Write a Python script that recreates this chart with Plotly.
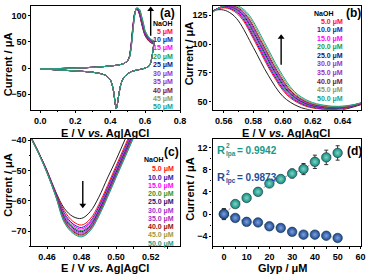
import plotly.graph_objects as go

W, H = 371, 274
FONT = "Liberation Sans"

# ---------------- shared labels / colours ----------------
conc_labels_a = ["5 μM", "10 μM", "15 μM", "20 μM", "25 μM", "30 μM", "35 μM", "40 μM", "45 μM", "50 μM"]
conc_labels_bc = ["5.0 μM", "10.0 μM", "15.0 μM", "20.0 μM", "25.0 μM", "30.0 μM", "35.0 μM", "40.0 μM", "45.0 μM", "50.0 μM"]
curve_colors = ["#ff1010", "#1c1cb0", "#ff00ff", "#1f9a3f", "#14147a", "#9b30d0", "#a030c0", "#8b1414", "#9a9a4a", "#16a08f"]
blank_color = "#222222"

# ---------------- panel (a): full CV ----------------
a_fwd_x = [0.0, 0.05, 0.1, 0.15, 0.2, 0.25, 0.3, 0.35, 0.4, 0.45, 0.48, 0.5]
a_fwd_y = [-1.5, -1.5, -1, -0.5, 0, 0.5, 1.5, 2.5, 4, 6, 9, 14]
a_peak_x = [0.51, 0.52, 0.53, 0.54, 0.55, 0.56, 0.57, 0.58, 0.59, 0.6, 0.62, 0.64, 0.65]
a_peak_y_blank = [22, 45, 80, 105, 113, 110, 100, 85, 72, 62, 52, 47, 46]
a_peak_y = [
    [21.7, 44.2, 79, 104.5, 113.2, 110.5, 101.2, 86.5, 73.5, 63, 52.8, 47.7, 46.7],
    [21.4, 43.4, 78, 104, 113.4, 111, 102.4, 88, 75, 64, 53.6, 48.4, 47.4],
    [21.1, 42.6, 77, 103.5, 113.6, 111.5, 103.6, 89.5, 76.5, 65, 54.4, 49.1, 48.1],
    [20.8, 41.8, 76, 103, 113.8, 112, 104.8, 91, 78, 66, 55.2, 49.8, 48.8],
    [20.5, 41, 75, 102.5, 114, 112.5, 106, 92.5, 79.5, 67, 56, 50.5, 49.5],
    [20.2, 40.2, 74, 102, 114.2, 113, 107.2, 94, 81, 68, 56.8, 51.2, 50.2],
    [19.9, 39.4, 73, 101.5, 114.4, 113.5, 108.4, 95.5, 82.5, 69, 57.6, 51.9, 50.9],
    [19.6, 38.6, 72, 101, 114.6, 114, 109.6, 97, 84, 70, 58.4, 52.6, 51.6],
    [19.3, 37.8, 71, 100.5, 114.8, 114.5, 110.8, 98.5, 85.5, 71, 59.2, 53.3, 52.3],
    [19, 37, 70, 100, 115, 115, 112, 100, 87, 72, 60, 54, 53],
]
a_rev_x = [0.645, 0.64, 0.63, 0.62, 0.6, 0.58, 0.55, 0.52, 0.5, 0.48, 0.47, 0.46, 0.45, 0.44, 0.435,
           0.43, 0.42, 0.41, 0.4, 0.38, 0.35, 0.3, 0.25, 0.2, 0.15, 0.1, 0.05, 0.0]
a_rev_y = [35, 22, 8, 3, 0, -2, -4, -7, -11, -17, -23, -33, -50, -72, -78,
           -70, -45, -30, -22, -15, -11, -8, -6.5, -5.5, -4.5, -3.5, -2.5, -2]

# ---------------- panel (b): anodic peak zoom ----------------
b_x_blank = [0.545, 0.55, 0.555, 0.56, 0.565, 0.57, 0.58, 0.59, 0.60, 0.61, 0.62, 0.63, 0.64, 0.65, 0.655]
b_y_blank = [123, 127, 129.5, 129.5, 126.5, 120, 97, 73, 54.5, 46, 42.5, 41.5, 43, 46.5, 48.5]
b_x = [
    [0.5475, 0.5525, 0.5575, 0.5625, 0.5675, 0.5725, 0.5825, 0.5925, 0.6025, 0.6125, 0.6225, 0.6325, 0.6425, 0.6525, 0.6575],
    [0.548, 0.553, 0.558, 0.563, 0.568, 0.573, 0.583, 0.593, 0.603, 0.613, 0.623, 0.633, 0.643, 0.653, 0.658],
    [0.5485, 0.5535, 0.5585, 0.5635, 0.5685, 0.5735, 0.5835, 0.5935, 0.6035, 0.6135, 0.6235, 0.6335, 0.6435, 0.6535, 0.6585],
    [0.549, 0.554, 0.559, 0.564, 0.569, 0.574, 0.584, 0.594, 0.604, 0.614, 0.624, 0.634, 0.644, 0.654, 0.659],
    [0.5495, 0.5545, 0.5595, 0.5645, 0.5695, 0.5745, 0.5845, 0.5945, 0.6045, 0.6145, 0.6245, 0.6345, 0.6445, 0.6545, 0.6595],
    [0.55, 0.555, 0.56, 0.565, 0.57, 0.575, 0.585, 0.595, 0.605, 0.615, 0.625, 0.635, 0.645, 0.655, 0.66],
    [0.5505, 0.5555, 0.5605, 0.5655, 0.5705, 0.5755, 0.5855, 0.5955, 0.6055, 0.6155, 0.6255, 0.6355, 0.6455, 0.6555, 0.6605],
    [0.551, 0.556, 0.561, 0.566, 0.571, 0.576, 0.586, 0.596, 0.606, 0.616, 0.626, 0.636, 0.646, 0.656, 0.661],
    [0.5518, 0.5568, 0.5618, 0.5668, 0.5718, 0.5768, 0.5868, 0.5968, 0.6068, 0.6168, 0.6268, 0.6368, 0.6468, 0.6568, 0.6618],
    [0.5525, 0.5575, 0.5625, 0.5675, 0.5725, 0.5775, 0.5875, 0.5975, 0.6075, 0.6175, 0.6275, 0.6375, 0.6475, 0.6575, 0.6625],
]
b_y = [
    [124.5, 128.5, 131, 131, 128, 121.5, 98.5, 74.5, 56, 47.5, 44, 43, 44.5, 48, 50],
    [125, 129, 131.5, 131.5, 128.5, 122, 99, 75, 56.5, 48, 44.5, 43.5, 45, 48.5, 50.5],
    [125.3, 129.3, 131.8, 131.8, 128.8, 122.3, 99.3, 75.3, 56.8, 48.3, 44.8, 43.8, 45.3, 48.8, 50.8],
    [125.6, 129.6, 132.1, 132.1, 129.1, 122.6, 99.6, 75.6, 57.1, 48.6, 45.1, 44.1, 45.6, 49.1, 51.1],
    [125.9, 129.9, 132.4, 132.4, 129.4, 122.9, 99.9, 75.9, 57.4, 48.9, 45.4, 44.4, 45.9, 49.4, 51.4],
    [126.2, 130.2, 132.7, 132.7, 129.7, 123.2, 100.2, 76.2, 57.7, 49.2, 45.7, 44.7, 46.2, 49.7, 51.7],
    [126.5, 130.5, 133, 133, 130, 123.5, 100.5, 76.5, 58, 49.5, 46, 45, 46.5, 50, 52],
    [126.8, 130.8, 133.3, 133.3, 130.3, 123.8, 100.8, 76.8, 58.3, 49.8, 46.3, 45.3, 46.8, 50.3, 52.3],
    [127.1, 131.1, 133.6, 133.6, 130.6, 124.1, 101.1, 77.1, 58.6, 50.1, 46.6, 45.6, 47.1, 50.6, 52.6],
    [127.5, 131.5, 134, 134, 131, 124.5, 101.5, 77.5, 59, 50.5, 47, 46, 47.5, 51, 53],
]

# ---------------- panel (c): cathodic peak zoom ----------------
c_x = [0.450, 0.455, 0.46, 0.465, 0.47, 0.475, 0.48, 0.485, 0.49, 0.495, 0.50, 0.505, 0.51, 0.515]
c_y_blank = [-38.5, -44, -50, -57, -62.5, -65.2, -65.8, -63.6, -58.8, -52.5, -46.5, -40, -33.5, -27]
c_y = [
    [-38.3, -43.9, -50.2, -57.3, -63.3, -66.8, -68, -66, -61.2, -55, -48.5, -42, -35.5, -29],
    [-38.3, -43.9, -50.3, -57.5, -64.1, -67.6, -68.8, -66.8, -62, -55.8, -49.3, -42.8, -36.3, -29.8],
    [-38.4, -44, -50.4, -57.6, -64.6, -68.1, -69.3, -67.3, -62.5, -56.3, -49.8, -43.3, -36.8, -30.3],
    [-38.4, -44, -50.5, -57.8, -65.1, -68.6, -69.8, -67.8, -63, -56.8, -50.3, -43.8, -37.3, -30.8],
    [-38.5, -44.1, -50.5, -57.9, -65.5, -69, -70.2, -68.2, -63.4, -57.2, -50.7, -44.2, -37.7, -31.2],
    [-38.5, -44.1, -50.6, -58, -65.9, -69.4, -70.6, -68.6, -63.8, -57.6, -51.1, -44.6, -38.1, -31.6],
    [-38.6, -44.2, -50.7, -58.2, -66.3, -69.8, -71, -69, -64.2, -58, -51.5, -45, -38.5, -32],
    [-38.6, -44.2, -50.7, -58.3, -66.6, -70.1, -71.3, -69.3, -64.5, -58.3, -51.8, -45.3, -38.8, -32.3],
    [-38.7, -44.3, -50.8, -58.4, -66.9, -70.4, -71.6, -69.6, -64.8, -58.6, -52.1, -45.6, -39.1, -32.6],
    [-38.7, -44.3, -50.9, -58.5, -67.2, -70.7, -71.9, -69.9, -65.1, -58.9, -52.4, -45.9, -39.4, -32.9],
]

# ---------------- panel (d): calibration ----------------
glyp = [0, 5, 10, 15, 20, 25, 30, 35, 40, 45, 50]
ipa = [0.0, 1.8, 2.9, 4.0, 5.5, 6.3, 7.3, 8.1, 9.4, 10.2, 11.0]
ipa_err = [1.0, 0.4, 0.4, 0.5, 0.5, 0.6, 0.8, 1.0, 1.2, 1.3, 1.3]
ipc = [0.0, -0.7, -1.4, -1.5, -2.2, -2.5, -3.2, -3.7, -3.7, -3.9, -4.3]
ipc_err = [0.9, 0.4, 0.4, 0.4, 0.4, 0.4, 0.4, 0.4, 0.4, 0.4, 0.4]
ipa_color = "#12897b"
ipc_color = "#1a4690"
r2_labels = ["Ipa", "Ipc"]
r2_values = ["0.9942", "0.9873"]
r2_colors = ["#17998a", "#1d4e9e"]

# arrows (tail -> head), panel a, b, c
arrow_x = [[0.632, 0.632], [0.5987, 0.5987], [0.4807, 0.4807]]
arrow_y = [[62, 112], [82, 106], [-53.5, -61.5]]

fig = go.Figure()

# (a)
fig.add_trace(go.Scatter(x=a_fwd_x + a_peak_x + a_rev_x, y=a_fwd_y + a_peak_y_blank + a_rev_y,
                         mode="lines", line=dict(color=blank_color, width=1, shape="spline", smoothing=0.6),
                         xaxis="x", yaxis="y", showlegend=False))
for k in range(10):
    fig.add_trace(go.Scatter(x=a_fwd_x + a_peak_x + a_rev_x, y=a_fwd_y + a_peak_y[k] + a_rev_y,
                             mode="lines", line=dict(color=curve_colors[k], width=1, shape="spline", smoothing=0.6),
                             xaxis="x", yaxis="y", showlegend=False))
# (b)
fig.add_trace(go.Scatter(x=b_x_blank, y=b_y_blank, mode="lines",
                         line=dict(color=blank_color, width=1, shape="spline"),
                         xaxis="x2", yaxis="y2", showlegend=False))
for k in range(10):
    fig.add_trace(go.Scatter(x=b_x[k], y=b_y[k], mode="lines",
                             line=dict(color=curve_colors[k], width=1, shape="spline"),
                             xaxis="x2", yaxis="y2", showlegend=False))
# (c)
fig.add_trace(go.Scatter(x=c_x, y=c_y_blank, mode="lines",
                         line=dict(color=blank_color, width=1, shape="spline"),
                         xaxis="x3", yaxis="y3", showlegend=False))
for k in range(10):
    fig.add_trace(go.Scatter(x=c_x, y=c_y[k], mode="lines",
                             line=dict(color=curve_colors[k], width=1, shape="spline"),
                             xaxis="x3", yaxis="y3", showlegend=False))
# (d)
for vals, errs, col, light in [(ipa, ipa_err, ipa_color, "#7fd6c8"), (ipc, ipc_err, ipc_color, "#7fa2e0")]:
    fig.add_trace(go.Scatter(x=glyp, y=vals, mode="lines+markers",
                             line=dict(color="#999999", width=1, dash="dot"),
                             marker=dict(size=9.5, color=col, line=dict(color="#0d3040", width=0.6),
                                         gradient=dict(type="radial", color=light)),
                             error_y=dict(type="data", array=errs, color="#333333", thickness=1, width=2),
                             xaxis="x4", yaxis="y4", showlegend=False))

# arrows as line + triangle head
for i, (xr, yr) in enumerate([("x", "y"), ("x2", "y2"), ("x3", "y3")]):
    up = arrow_y[i][1] > arrow_y[i][0]
    fig.add_trace(go.Scatter(x=arrow_x[i], y=arrow_y[i], mode="lines",
                             line=dict(color="black", width=1.4), xaxis=xr, yaxis=yr,
                             showlegend=False, hoverinfo="skip"))
    fig.add_trace(go.Scatter(x=[arrow_x[i][1]], y=[arrow_y[i][1]], mode="markers",
                             marker=dict(symbol="triangle-up" if up else "triangle-down", size=6, color="black"),
                             xaxis=xr, yaxis=yr, showlegend=False, hoverinfo="skip"))

tickfont = dict(family=FONT, size=9, color="black", weight="bold")


def axis(domain, rng, dtick, fmt=None, anchor=None):
    d = dict(domain=domain, range=rng, dtick=dtick, showline=True, mirror=True, linecolor="black",
             linewidth=1.2, ticks="outside", ticklen=2, tickwidth=1, tickcolor="black",
             showgrid=False, zeroline=False, tickfont=tickfont, anchor=anchor,
             minor=dict(ticks="outside", ticklen=1.5, tickcolor="black", nticks=2))
    if fmt:
        d["tickformat"] = fmt
    return d


xa = [32 / W, 183 / W]
xb = [216 / W, 367 / W]
ytop = [1 - 108 / H, 1 - 3 / H]
ybot = [1 - 246 / H, 1 - 137 / H]

fig.update_layout(
    width=W, height=H, autosize=False, margin=dict(l=0, r=0, t=0, b=0),
    paper_bgcolor="white", plot_bgcolor="white",
    xaxis=axis(xa, [-0.05, 0.8], 0.2, ".1f", "y"),
    yaxis=axis(ytop, [-80, 119], 50, None, "x"),
    xaxis2=axis(xb, [0.5525, 0.6525], 0.02, ".2f", "y2"),
    yaxis2=axis(ytop, [43, 133], 25, None, "x2"),
    xaxis3=axis(xa, [0.451, 0.537], 0.02, ".2f", "y3"),
    yaxis3=axis(ybot, [-75, -39.5], 10, None, "x3"),
    xaxis4=axis(xb, [-5, 60.3], 10, None, "y4"),
    yaxis4=axis(ybot, [-5.8, 13.6], 4, None, "x4"),
)

ann = []


def ptext(px, py, text, size, color="black", xanchor="center", angle=0):
    ann.append(dict(x=px / W, y=1 - py / H, xref="paper", yref="paper", text=text, showarrow=False,
                    xanchor=xanchor, yanchor="middle", textangle=angle,
                    font=dict(family=FONT, size=size, color=color, weight="bold")))


xtitle = "E / V <i>vs.</i> Ag|AgCl"
ptext(107, 131, xtitle, 11)
ptext(291, 131, xtitle, 11)
ptext(107, 268, xtitle, 11)
ptext(288, 268, "Glyp / μM", 11)
ptext(8, 62, "Current / μA", 11, angle=-90)
ptext(193, 51, "Current / μA", 11, angle=-90)
ptext(8, 184, "Current / μA", 11, angle=-90)
ptext(193, 188, "Current / μA", 11, angle=-90)

ptext(170, 10, "(a)", 12)
ptext(359, 10, "(b)", 12)
ptext(174, 151, "(c)", 12)
ptext(360, 150, "(d)", 12)

# legends
ptext(177, 21, "NaOH", 7, xanchor="right")
for k in range(10):
    ptext(178, 29 + 8.5 * k, conc_labels_a[k], 7, curve_colors[k], xanchor="right")
ptext(340, 10.5, "NaOH", 7, xanchor="right")
for k in range(10):
    ptext(351, 19 + 8.63 * k, conc_labels_bc[k], 7, curve_colors[k], xanchor="right")
ptext(168, 158, "NaOH", 7, xanchor="right")
for k in range(10):
    ptext(179, 168.3 + 8.33 * k, conc_labels_bc[k], 7, curve_colors[k], xanchor="right")

# R² labels with stacked super/subscript
for i, py in enumerate([149, 176]):
    ptext(219, py, "R", 11, r2_colors[i], xanchor="left")
    ptext(227.5, py - 4.5, "2", 6.5, r2_colors[i], xanchor="left")
    ptext(227.5, py + 4, r2_labels[i], 6.5, r2_colors[i], xanchor="left")
    ptext(239, py, "= " + r2_values[i], 10, r2_colors[i], xanchor="left")

fig.update_layout(annotations=ann)
fig.write_html("out.html", config={"displayModeBar": False},
               post_script="document.body.style.margin='0px';document.body.style.padding='0px';document.body.style.overflow='hidden';")
